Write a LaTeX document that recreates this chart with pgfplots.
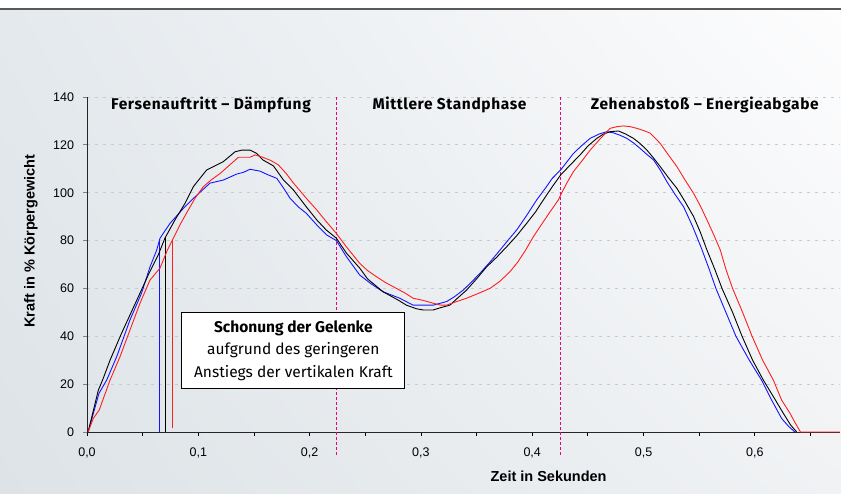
\documentclass[border=0pt]{standalone}
\usepackage{pgfplots}
\pgfplotsset{compat=1.18}
\usetikzlibrary{shadings}
\usepackage{fontspec}
\setmainfont{Liberation Sans}
\newfontfamily\fira{Fira Sans}
\newfontfamily\firals[LetterSpace=4]{Fira Sans}
\definecolor{magline}{RGB}{235,0,130}
\definecolor{bgUL}{RGB}{228,233,237}
\definecolor{bgUR}{RGB}{253,253,254}
\definecolor{bgLL}{RGB}{221,227,231}
\definecolor{bgLR}{RGB}{240,242,244}
\definecolor{cblue}{RGB}{20,20,255}
\definecolor{cred}{RGB}{255,30,30}
\definecolor{cgrid}{RGB}{200,203,205}
\begin{document}
\begin{tikzpicture}
\shade[upper left=bgUL, upper right=bgUR, lower left=bgLL, lower right=bgLR] (-87pt,-62pt) rectangle (754pt,423pt);
\fill[white] (-87pt,423pt) rectangle (754pt,432pt);
\draw[line width=1.3pt, black!65] (-87pt,423pt) -- (754pt,423pt);
\begin{axis}[
  at={(0,0)}, anchor=south west,
  scale only axis, width=753pt, height=335pt,
  xmin=0, xmax=0.6765, ymin=0, ymax=140,
  axis x line=bottom, axis y line=left,
  axis line style={-, line width=0.9pt, black!85},
  xtick={0,0.05,0.1,0.15,0.2,0.25,0.3,0.35,0.4,0.45,0.5,0.55,0.6,0.65},
  xticklabels={{0,0},,{0,1},,{0,2},,{0,3},,{0,4},,{0,5},,{0,6},},
  ytick={0,20,40,60,80,100,120,140},
  tick align=outside, major tick length=4pt,
  x tick style={black, line width=0.8pt},
  y tick style={black!50, line width=0.8pt},
  ymajorgrids,
  grid style={cgrid, line width=0.8pt, dash pattern=on 3pt off 5pt},
  tick label style={font=\fontsize{12.5}{14}\selectfont, /pgf/number format/assume math mode=true},
  xticklabel style={yshift=-8pt},
  yticklabel style={xshift=-5.5pt},
  xlabel={Zeit in Sekunden},
  ylabel={Kraft in \% Körpergewicht},
  xlabel style={font=\bfseries\fontsize{14.5}{16}\selectfont, at={(rel axis cs:0.613,-0.1334)}, anchor=center},
  ylabel style={font=\bfseries\fontsize{14.5}{16}\selectfont, at={(rel axis cs:-0.0744,0.570)}, anchor=center},
  clip=false,
]
% phase separators
\addplot[magline, line width=1pt, dash pattern=on 3pt off 2pt] coordinates {(0.2242,140) (0.2242,-9.6)};
\addplot[magline, line width=1pt, dash pattern=on 3pt off 2pt] coordinates {(0.4254,140) (0.4254,-9.6)};
% vertical markers
\addplot[cblue, line width=0.9pt] coordinates {(0.0653,0) (0.0653,80.5)};
\addplot[black, line width=0.9pt] coordinates {(0.0701,0) (0.0701,81.5)};
\addplot[cred, line width=0.9pt] coordinates {(0.077,1.5) (0.077,80.5)};
% blue
\addplot[cblue, line width=0.9pt] coordinates {
(0.001,0) (0.0108,16.2) (0.0177,21.7) (0.0267,31.5) (0.0386,46.8) (0.049,58) (0.0566,69) (0.0626,76) (0.0656,81) (0.0746,87.2) (0.0865,93.4) (0.0955,97.6) (0.1105,104) (0.1225,105.3) (0.1345,107.8) (0.1405,108.5) (0.1465,109.8) (0.1555,109) (0.1625,107.5) (0.1705,106) (0.1765,102) (0.1824,97.7) (0.19,94) (0.197,91.4) (0.2065,86.5) (0.2155,82.3) (0.224,80) (0.233,73.3) (0.245,65.6) (0.255,62) (0.266,58.6) (0.281,55.9) (0.293,53) (0.311,53) (0.323,54.5) (0.33,56.5) (0.338,59.3) (0.345,62.5) (0.353,66.3) (0.362,71) (0.371,76) (0.378,80) (0.386,84.4) (0.395,90.5) (0.404,97) (0.412,102) (0.418,106) (0.4255,109.5) (0.437,116.4) (0.444,119.5) (0.452,122.7) (0.46,124.5) (0.467,125.5) (0.473,125) (0.479,124) (0.485,122.7) (0.491,120.8) (0.497,118.5) (0.503,116) (0.509,113.7) (0.515,109.5) (0.521,104.6) (0.528,99.5) (0.536,94.1) (0.544,86) (0.552,76.8) (0.559,68) (0.565,60) (0.574,50) (0.583,40) (0.595,30) (0.606,21.7) (0.615,13.4) (0.624,5.7) (0.630,2.5) (0.636,0)
};
% black
\addplot[black, line width=0.9pt] coordinates {
(0.001,0) (0.0102,17.5) (0.014,21.7) (0.0207,30) (0.031,41.2) (0.0476,58) (0.055,65.6) (0.064,74) (0.070,81) (0.079,88.6) (0.088,95.5) (0.0955,102.5) (0.1075,109.5) (0.1225,113) (0.133,117.1) (0.139,117.8) (0.1465,117.8) (0.1525,116.4) (0.158,113.7) (0.1675,111.2) (0.1765,105.3) (0.1855,101.1) (0.197,94.1) (0.2065,88.6) (0.215,84.4) (0.224,81) (0.233,74.8) (0.245,68.5) (0.252,64) (0.266,58.6) (0.28,55) (0.287,53) (0.296,51.5) (0.302,51) (0.311,51) (0.318,52) (0.326,53) (0.333,56) (0.341,59.3) (0.35,64) (0.359,69) (0.368,73) (0.377,77.4) (0.386,82) (0.395,87.2) (0.403,92) (0.41,97) (0.418,102.5) (0.4255,107.4) (0.435,112) (0.443,115.8) (0.45,119.5) (0.458,122.7) (0.464,124.5) (0.470,125.5) (0.4775,125.8) (0.484,124.5) (0.491,122.7) (0.497,120.5) (0.503,117.8) (0.509,114.5) (0.515,110.9) (0.522,106.5) (0.530,101.8) (0.537,96.5) (0.545,90) (0.551,83.5) (0.557,76) (0.564,68) (0.5705,60) (0.58,50) (0.5885,40) (0.598,30) (0.6076,21.7) (0.6166,14.8) (0.6256,7.8) (0.632,3) (0.6376,0)
};
% red
\addplot[cred, line width=0.9pt] coordinates {
(0.001,0) (0.0057,5.7) (0.011,9.2) (0.0207,21.7) (0.0297,31.5) (0.0386,42.6) (0.0476,53.8) (0.0566,63.5) (0.0656,68.5) (0.0722,76) (0.077,80.5) (0.084,87) (0.091,92.8) (0.0975,98) (0.1045,102.5) (0.112,105.5) (0.1195,108) (0.128,111.5) (0.136,114.8) (0.1465,114.8) (0.151,115.8) (0.158,114.8) (0.165,113.5) (0.172,111.6) (0.179,108) (0.1855,104) (0.191,101) (0.197,97.7) (0.206,93) (0.215,87.9) (0.224,83) (0.233,77.4) (0.245,70.5) (0.252,67.5) (0.260,64.9) (0.268,62.5) (0.278,60) (0.286,58) (0.293,55.9) (0.302,55) (0.311,53.8) (0.318,53) (0.323,53) (0.332,54.5) (0.341,55.9) (0.352,58) (0.362,60) (0.371,63) (0.380,67) (0.387,71) (0.394,76) (0.401,81.6) (0.408,86.5) (0.416,92) (0.4235,97) (0.4255,99) (0.431,104) (0.437,108.8) (0.445,113.5) (0.452,117.8) (0.461,122.5) (0.470,126.9) (0.476,127.6) (0.482,127.9) (0.488,127.6) (0.494,126.9) (0.500,126) (0.506,124.9) (0.510,123) (0.515,120.6) (0.522,116) (0.530,110.9) (0.537,105.5) (0.545,99.7) (0.551,94.5) (0.557,88.6) (0.563,82.5) (0.569,76) (0.574,68) (0.580,60) (0.589,50) (0.5975,40) (0.607,30) (0.6166,21.7) (0.624,13.4) (0.6316,7.8) (0.636,4) (0.641,0) (0.6765,0)
};
% phase labels
\node[font=\firals\bfseries\fontsize{15.5}{17}\selectfont, anchor=base] at (axis cs:0.1114,134.6) {Fersenauftritt – Dämpfung};
\node[font=\firals\bfseries\fontsize{15.5}{17}\selectfont, anchor=base] at (axis cs:0.3257,134.6) {Mittlere Standphase};
\node[font=\firals\bfseries\fontsize{15.5}{17}\selectfont, anchor=base] at (axis cs:0.555,134.6) {Zehenabstoß – Energieabgabe};
% annotation box
\node[draw=black, fill=white, line width=0.8pt, minimum width=223pt, minimum height=76pt, inner sep=0pt, align=center, font=\fira\fontsize{15.5}{22.5}\selectfont] at (axis cs:0.1854,34.1) {{\bfseries Schonung der Gelenke}\\aufgrund des geringeren\\Anstiegs der vertikalen Kraft};
\end{axis}
\pgfresetboundingbox
\useasboundingbox (-87pt,-62pt) rectangle (754pt,432pt);
\end{tikzpicture}
\end{document}
